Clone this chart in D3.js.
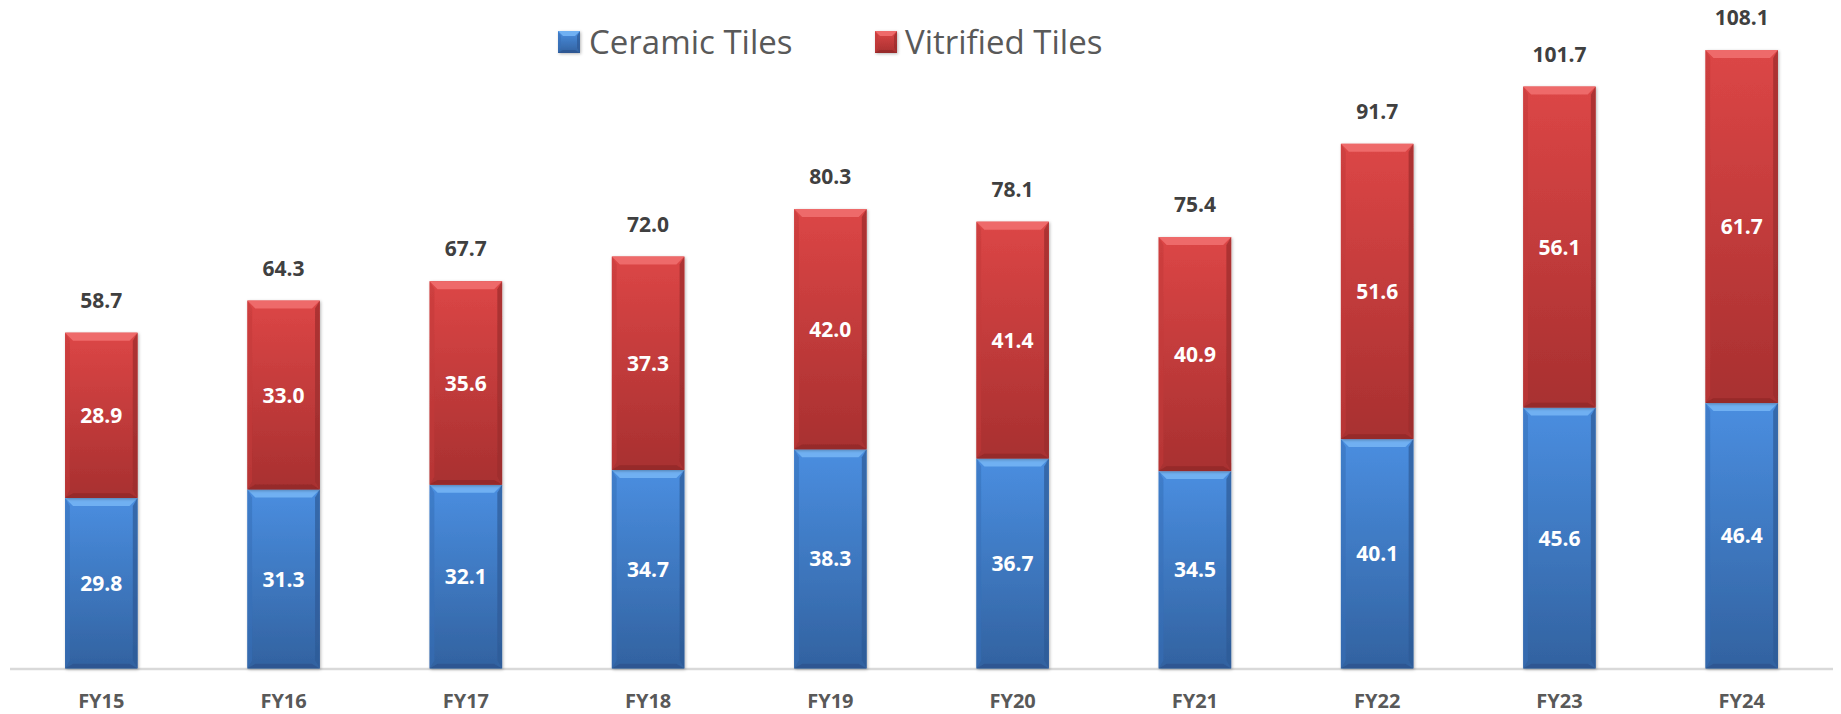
<!DOCTYPE html>
<html>
<head>
<meta charset="utf-8">
<script src="https://cdn.jsdelivr.net/npm/d3@7/dist/d3.min.js"></script>
<style>
  html, body { margin: 0; padding: 0; background: #fff; }
  svg { display: block; }
</style>
</head>
<body>
<svg id="chart" width="1841" height="714"></svg>
<script>
const categories = ["FY15","FY16","FY17","FY18","FY19","FY20","FY21","FY22","FY23","FY24"];
const ceramic   = [29.8, 31.3, 32.1, 34.7, 38.3, 36.7, 34.5, 40.1, 45.6, 46.4];
const vitrified = [28.9, 33.0, 35.6, 37.3, 42.0, 41.4, 40.9, 51.6, 56.1, 61.7];
const totals    = [58.7, 64.3, 67.7, 72.0, 80.3, 78.1, 75.4, 91.7, 101.7, 108.1];
const seriesNames = ["Ceramic Tiles", "Vitrified Tiles"];

const W = 1841, H = 714;
const svg = d3.select("#chart");
const FONT = "'Open Sans', 'Liberation Sans', sans-serif";

const x = d3.scaleBand().domain(categories).range([10, 1833]).paddingInner(0.602).paddingOuter(0.302);
const y = d3.scaleLinear().domain([0, 108.1]).range([668.5, 50]);

const palettes = {
  blue: { top: "#4a8ee0", bottom: "#3262a0", bevTop: "#6fb0f2", bevBot: "#2a5088", side: "#3670b8", sideR: "#2d5a96" },
  red:  { top: "#dc4646", bottom: "#a83030", bevTop: "#ee6a6a", bevBot: "#8a2424", side: "#c23a3a", sideR: "#9a2c2c" }
};

const defs = svg.append("defs");
Object.entries(palettes).forEach(([k, p]) => {
  const g = defs.append("linearGradient").attr("id", "grad-" + k).attr("x1", 0).attr("y1", 0).attr("x2", 0).attr("y2", 1);
  g.append("stop").attr("offset", "0%").attr("stop-color", p.top);
  g.append("stop").attr("offset", "100%").attr("stop-color", p.bottom);
});
const f = defs.append("filter").attr("id", "shadow").attr("x", "-20%").attr("y", "-20%").attr("width", "140%").attr("height", "140%");
f.append("feDropShadow").attr("dx", 1).attr("dy", 1).attr("stdDeviation", 1.6).attr("flood-color", "#000").attr("flood-opacity", 0.28);

function bevelRect(g, x0, y0, w, h, key, b) {
  const p = palettes[key];
  b = Math.min(b, h / 2, w / 2);
  const x1 = x0 + w, y1 = y0 + h;
  const grp = g.append("g").attr("filter", "url(#shadow)");
  grp.append("rect").attr("x", x0).attr("y", y0).attr("width", w).attr("height", h).attr("fill", `url(#grad-${key})`);
  grp.append("polygon").attr("points", [[x0,y0],[x0+b*0.6,y0+b],[x0+b*0.6,y1-b],[x0,y1]].join(" ")).attr("fill", p.side).attr("opacity", 0.55);
  grp.append("polygon").attr("points", [[x1,y0],[x1-b*0.6,y0+b],[x1-b*0.6,y1-b],[x1,y1]].join(" ")).attr("fill", p.sideR).attr("opacity", 0.7);
  grp.append("polygon").attr("points", [[x0,y0],[x1,y0],[x1-b,y0+b],[x0+b,y0+b]].join(" ")).attr("fill", p.bevTop);
  grp.append("polygon").attr("points", [[x0,y1],[x1,y1],[x1-b,y1-b*0.6],[x0+b,y1-b*0.6]].join(" ")).attr("fill", p.bevBot).attr("opacity", 0.6);
}

// axis line
svg.append("line").attr("x1", 10).attr("x2", 1833).attr("y1", y(0) + 0.5).attr("y2", y(0) + 0.5)
  .attr("stroke", "#d9d9d9").attr("stroke-width", 2.5);

const barsG = svg.append("g");
categories.forEach((c, i) => {
  const x0 = x(c), w = x.bandwidth();
  const yC = y(ceramic[i]);
  bevelRect(barsG, x0, yC, w, y(0) - yC, "blue", 8);
  const yV = y(ceramic[i] + vitrified[i]);
  bevelRect(barsG, x0, yV, w, yC - yV, "red", 8);
});

// inner labels
const lbl = svg.append("g").attr("font-family", FONT).attr("font-weight", 700).attr("font-size", 21).attr("text-anchor", "middle").attr("fill", "#ffffff");
categories.forEach((c, i) => {
  const cx = x(c) + x.bandwidth() / 2;
  lbl.append("text").attr("x", cx).attr("y", (y(0) + y(ceramic[i])) / 2).attr("dy", "0.36em").text(ceramic[i].toFixed(1));
  lbl.append("text").attr("x", cx).attr("y", (y(ceramic[i]) + y(ceramic[i] + vitrified[i])) / 2).attr("dy", "0.36em").text(vitrified[i].toFixed(1));
});

// totals
const tot = svg.append("g").attr("font-family", FONT).attr("font-weight", 700).attr("font-size", 21).attr("text-anchor", "middle").attr("fill", "#404040");
categories.forEach((c, i) => {
  tot.append("text").attr("x", x(c) + x.bandwidth() / 2).attr("y", y(totals[i]) - 25).text(totals[i].toFixed(1));
});

// x-axis labels
const xl = svg.append("g").attr("font-family", FONT).attr("font-weight", 700).attr("font-size", 20).attr("text-anchor", "middle").attr("fill", "#595959");
categories.forEach(c => {
  xl.append("text").attr("x", x(c) + x.bandwidth() / 2).attr("y", 708).text(c);
});

// legend
const legend = svg.append("g");
const legendItems = [
  { name: seriesNames[0], key: "blue", sx: 558, tx: 589 },
  { name: seriesNames[1], key: "red", sx: 875, tx: 905 }
];
legendItems.forEach(it => {
  bevelRect(legend, it.sx, 31, 22, 22, it.key, 5);
  legend.append("text").attr("x", it.tx).attr("y", 42).attr("dy", "0.36em")
    .attr("font-family", FONT).attr("font-size", 33).attr("fill", "#595959").text(it.name);
});
</script>
</body>
</html>
